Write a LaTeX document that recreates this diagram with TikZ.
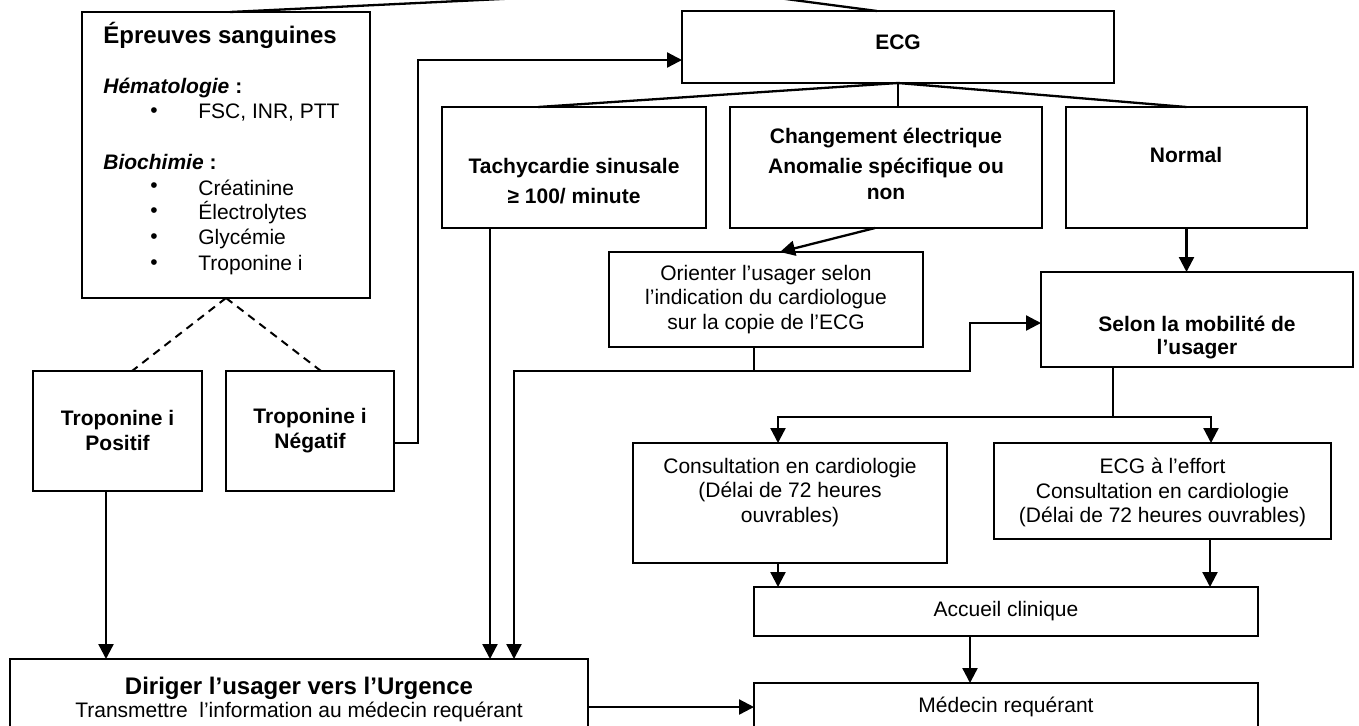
\documentclass[tikz,border=0pt]{standalone}
\usepackage{fontspec}
\setmainfont{Liberation Sans}
\usetikzlibrary{arrows.meta,calc}
\begin{document}
\begin{tikzpicture}[x=0.5pt,y=-0.5pt,
  box/.style={draw,line width=1.15pt,inner sep=0pt,outer sep=0pt,rectangle},
  lnk/.style={line width=1.15pt},
  arr/.style={line width=1.15pt,-{Triangle[length=7.5pt,width=7.5pt]}},
  dsh/.style={line width=1pt,dash pattern=on 4pt off 3pt},
  rg/.style={font=\fontsize{10.5}{12.25}\selectfont,inner sep=0pt,align=center},
  bd/.style={font=\fontsize{10.5}{12.5}\selectfont\bfseries,inner sep=0pt,align=center},
  hd/.style={font=\fontsize{12}{14}\selectfont\bfseries,inner sep=0pt},
  lt/.style={font=\fontsize{10.5}{12.25}\selectfont,inner sep=0pt,anchor=west},
  ]
\useasboundingbox (0,0) rectangle (1359,725);
\clip (0,0) rectangle (1359,725);

% boxes
\node[box,minimum width=144pt,minimum height=143pt] (ep) at (226,155) {};
\node[box,minimum width=216pt,minimum height=36pt] (ecg) at (898,47) {};
\node[box,minimum width=132pt,minimum height=60.5pt] (tachy) at (574,167.5) {};
\node[box,minimum width=156pt,minimum height=60.5pt] (chg) at (886,167.5) {};
\node[box,minimum width=120.5pt,minimum height=60.5pt] (norm) at (1186.5,167.5) {};
\node[box,minimum width=157pt,minimum height=47.5pt] (ori) at (766,299.5) {};
\node[box,minimum width=156pt,minimum height=47.5pt] (sel) at (1197,319.5) {};
\node[box,minimum width=84.5pt,minimum height=60pt] (pos) at (117.5,431) {};
\node[box,minimum width=84pt,minimum height=60pt] (neg) at (310,431) {};
\node[box,minimum width=157pt,minimum height=60pt] (cons) at (790,503) {};
\node[box,minimum width=168.5pt,minimum height=48pt] (eff) at (1162.5,491) {};
\node[box,minimum width=252pt,minimum height=24.5pt] (acc) at (1006,611.5) {};
\node[box,minimum width=289pt,minimum height=50.5pt] (urg) at (299,709.5) {};
\node[box,minimum width=252pt,minimum height=38.5pt] (med) at (1006,721.5) {};

% texts
\node[hd,anchor=west] at (103,35) {Épreuves sanguines};
\node[lt,font=\fontsize{10.5}{12.25}\selectfont\bfseries] at (103,88) {\textit{Hématologie} :};
\node[lt] at (150,113) {•};
\node[lt] at (198,113) {FSC, INR, PTT};
\node[lt,font=\fontsize{10.5}{12.25}\selectfont\bfseries] at (103,162) {\textit{Biochimie} :};
\node[lt] at (150,188) {•};
\node[lt] at (198,188) {Créatinine};
\node[lt] at (150,213) {•};
\node[lt] at (198,213) {Électrolytes};
\node[lt] at (150,239) {•};
\node[lt] at (198,239) {Glycémie};
\node[lt] at (150,265) {•};
\node[lt] at (198,265) {Troponine i};

\node[bd] at (898,42) {ECG};
\node[bd,font=\fontsize{10.5}{15}\selectfont\bfseries] at (574,181) {Tachycardie sinusale\\≥ 100/ minute};
\node[bd,font=\fontsize{10.5}{13}\selectfont\bfseries] at (886,164) {Changement électrique\\[2pt]Anomalie spécifique ou\\non};
\node[bd] at (1186,155) {Normal};
\node[rg] at (766,299.5) {Orienter l’usager selon\\l’indication du cardiologue\\sur la copie de l’ECG};
\node[bd,font=\fontsize{10.5}{11.5}\selectfont\bfseries] at (1197,338) {Selon la mobilité de\\l’usager};
\node[bd] at (117.5,430.5) {Troponine i\\Positif};
\node[bd] at (310,430.5) {Troponine i\\Négatif};
\node[rg] at (790,492.5) {Consultation en cardiologie\\(Délai de 72 heures\\ouvrables)};
\node[rg] at (1162.5,492.5) {ECG à l’effort\\Consultation en cardiologie\\(Délai de 72 heures ouvrables)};
\node[rg] at (1006,611) {Accueil clinique};
\node[rg] at (1006,707) {Médecin requérant};
\node[hd] at (299,688) {Diriger l’usager vers l’Urgence};
\node[rg] at (299,712) {Transmettre~ l’information au médecin requérant};

% connectors
\coordinate (apex) at (710,-11);
\draw[lnk] (apex) -- ([xshift=2pt]ep.north);
\draw[lnk] (apex) -- ([xshift=-10.5pt]ecg.north);

\draw[lnk] (ecg.south) -- ([xshift=-18pt]tachy.north);
\draw[lnk] (ecg.south) -- (ecg.south |- chg.north);
\draw[lnk] (ecg.south) -- (norm.north);
\draw[arr] (norm.south) -- (norm.south |- sel.north);
\draw[arr] ([xshift=-5.5pt]chg.south) -- ([xshift=7pt]ori.north);

\coordinate (b1) at (514,371);
\coordinate (b2) at (970,371);
\draw[arr] ([xshift=-6pt]ori.south) |- (b1) -- (b1 |- urg.north);
\draw[arr] ([xshift=-6pt]ori.south) |- (b2) |- ([yshift=-1.75pt]sel.west);

\draw[arr] ([xshift=-42pt]tachy.south) -- ([xshift=-42pt]tachy.south |- urg.north);

\coordinate (c1) at (418,443);
\draw[arr] ([yshift=-6pt]neg.east) -- (c1) |- ([yshift=-6.5pt]ecg.west);

\draw[dsh] (ep.south) -- ([xshift=7.25pt]pos.north);
\draw[dsh] (ep.south) -- ([xshift=5.5pt]neg.north);

\draw[arr] ([xshift=-5.75pt]pos.south) -- ([xshift=-5.75pt]pos.south |- urg.north);

\coordinate (s1) at (1113,417);
\draw[arr] ([xshift=-42pt]sel.south) -- (s1) -| ([xshift=-6pt]cons.north);
\draw[arr] ([xshift=-42pt]sel.south) -- (s1) -| ([xshift=24.25pt]eff.north);

\draw[arr] ([xshift=-6pt]cons.south) -- ([xshift=-6pt]cons.south |- acc.north);
\draw[arr] ([xshift=23.75pt]eff.south) -- ([xshift=23.75pt]eff.south |- acc.north);
\draw[arr] ([xshift=-18pt]acc.south) -- ([xshift=-18pt]acc.south |- med.north);

\coordinate (h) at (0,707);
\draw[arr] (urg.east |- h) -- (med.west |- h);
\end{tikzpicture}
\end{document}
